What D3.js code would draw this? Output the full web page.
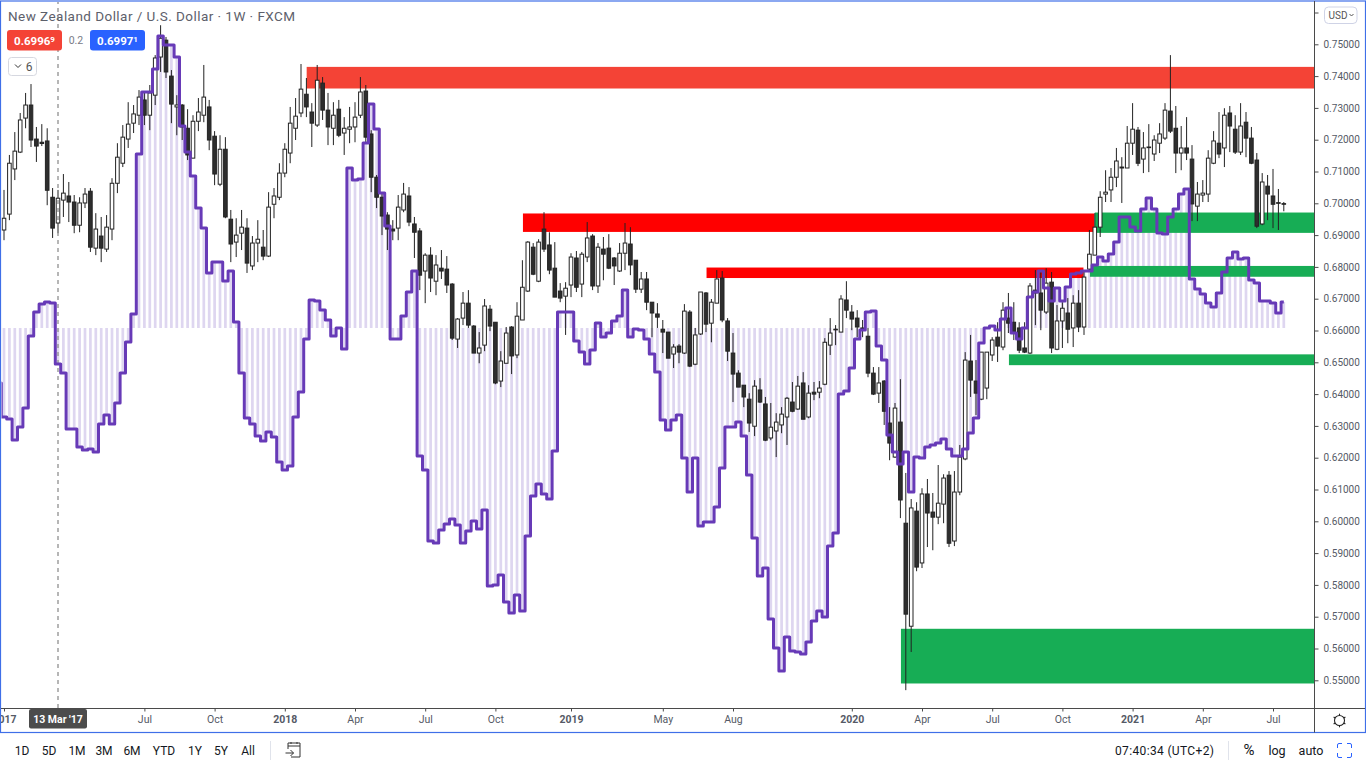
<!DOCTYPE html>
<html><head><meta charset="utf-8">
<style>
html,body{margin:0;padding:0;background:#fff;overflow:hidden}
svg{display:block}
text{font-family:Roboto,"Noto Sans",sans-serif}
</style>
<script src="https://d3js.org/d3.v7.min.js"></script>
</head><body><svg id="c" width="1366" height="768"></svg>
<script>
// weekly NZD/USD candles in pips (price x 10000), first candle 2 Jan 2017
const opens=[6916,6966,7108,7161,7268,7309,7202,7192,7196,7019,
6938,7010,7023,7004,6931,7001,7038,6859,6897,6856,
6919,7063,7126,7202,7252,7277,7325,7277,7340,7460,
7513,7400,7303,7309,7236,7142,7258,7277,7303,7211,
7060,7170,6950,6878,6906,6922,6803,6875,6862,6834,
6997,7019,7095,7158,7236,7284,7343,7287,7246,7378,
7293,7236,7296,7221,7233,7240,7277,7353,7218,7082,
7019,6963,6919,6922,6979,7023,6935,6913,6787,6837,
6755,6796,6793,6746,6573,6639,6686,6614,6529,6554,
6667,6626,6441,6497,6611,6523,6633,6724,6862,6755,
6919,6869,6796,6724,6708,6743,6828,6746,6831,6897,
6740,6856,6859,6828,6787,6843,6872,6821,6730,6762,
6689,6652,6604,6595,6526,6551,6529,6658,6494,6589,
6718,6623,6686,6765,6630,6529,6466,6428,6384,6299,
6413,6369,6262,6284,6303,6328,6375,6353,6435,6328,
6406,6406,6431,6554,6602,6595,6696,6658,6639,6608,
6582,6466,6403,6441,6309,6202,6312,5994,5670,6032,
5869,6086,6029,6013,6054,6145,5938,6092,6196,6504,
6441,6384,6419,6523,6579,6548,6639,6626,6608,6545,
6529,6727,6718,6658,6752,6541,6630,6655,6608,6686,
6611,6793,6837,6925,7029,7042,7082,7111,7111,7189,
7230,7139,7175,7155,7189,7205,7290,7236,7158,7174,
7139,6991,7026,7029,7126,7189,7174,7284,7233,7161,
7255,7205,7136,6935,7054,7023,7002,6999];
const closes=[6953,7126,7164,7262,7309,7199,7180,7188,7041,6922,
7016,7032,7004,6931,7001,7029,6862,6919,6859,6925,
7063,7145,7208,7249,7281,7334,7277,7347,7457,7519,
7413,7312,7309,7240,7152,7258,7287,7334,7199,7092,
7170,6957,6872,6900,6925,6812,6875,6887,6834,6988,
7023,7095,7170,7252,7274,7359,7303,7252,7387,7293,
7240,7277,7214,7236,7240,7271,7350,7208,7082,7019,
6960,6919,6913,6988,7029,6941,6909,6774,6837,6765,
6806,6787,6743,6576,6636,6686,6617,6529,6545,6677,
6614,6435,6504,6592,6520,6645,6736,6878,6777,6878,
6856,6790,6705,6702,6733,6831,6736,6840,6891,6740,
6862,6840,6796,6803,6843,6875,6806,6730,6762,6689,
6655,6642,6595,6513,6548,6532,6661,6488,6586,6721,
6620,6689,6762,6633,6535,6463,6422,6391,6309,6425,
6375,6255,6296,6312,6337,6387,6346,6425,6321,6403,
6400,6419,6563,6592,6604,6699,6664,6636,6611,6606,
6466,6400,6435,6346,6246,6356,6067,5708,6042,5856,
6086,6026,6013,6057,6136,5931,6092,6202,6507,6444,
6403,6532,6532,6570,6551,6664,6623,6592,6538,6532,
6740,6718,6664,6749,6545,6630,6670,6604,6686,6611,
6768,6840,6925,7019,7035,7082,7133,7114,7189,7233,
7126,7174,7177,7199,7218,7293,7227,7158,7174,7158,
6998,7029,7032,7142,7196,7155,7277,7243,7161,7243,
7205,7126,6928,7067,7029,6997,7000,6997];
const highs=[7042,7152,7224,7284,7347,7375,7240,7249,7236,7048,
7042,7092,7067,7026,7019,7048,7048,6969,6957,6963,
7079,7189,7246,7318,7309,7356,7350,7372,7466,7560,
7523,7419,7340,7312,7296,7277,7331,7435,7325,7227,
7214,7208,6979,6953,6979,6953,6897,6947,6916,7035,
7048,7126,7189,7303,7331,7438,7394,7315,7435,7397,
7347,7318,7325,7271,7303,7318,7397,7372,7230,7089,
7035,6972,6947,7026,7064,7051,6957,6922,6843,6862,
6837,6853,6834,6749,6639,6721,6727,6617,6595,6699,
6680,6626,6535,6611,6614,6689,6821,6881,6875,6887,
6972,6909,6878,6749,6752,6843,6850,6847,6941,6903,
6875,6894,6903,6831,6875,6938,6925,6821,6784,6784,
6689,6686,6633,6595,6557,6557,6683,6664,6608,6721,
6721,6699,6790,6787,6639,6592,6475,6428,6403,6444,
6450,6391,6372,6340,6359,6391,6438,6457,6469,6428,
6438,6441,6576,6639,6617,6711,6755,6680,6664,6633,
6608,6485,6485,6444,6359,6372,6447,6152,6070,6060,
6104,6133,6089,6177,6148,6158,6158,6240,6532,6586,
6507,6532,6532,6579,6626,6689,6718,6689,6626,6626,
6749,6790,6790,6796,6784,6680,6689,6702,6711,6727,
6784,6916,6969,7038,7104,7111,7174,7145,7243,7315,
7240,7224,7249,7214,7252,7315,7466,7306,7243,7271,
7183,7067,7073,7167,7227,7287,7299,7306,7277,7315,
7287,7240,7158,7095,7089,7108,7045,7004];
const lows=[6884,6947,7073,7158,7236,7177,7130,7180,6994,6891,
6906,6957,6941,6906,6909,6985,6847,6837,6815,6847,
6884,7032,7114,7174,7221,7246,7246,7230,7309,7413,
7394,7252,7214,7199,7136,7142,7227,7255,7167,7057,
7054,6953,6815,6831,6853,6781,6790,6815,6821,6831,
6953,7010,7082,7126,7199,7271,7271,7177,7240,7262,
7183,7183,7208,7152,7189,7192,7268,7192,7035,6985,
6900,6853,6884,6884,6972,6928,6828,6727,6686,6721,
6711,6762,6718,6570,6545,6617,6608,6529,6497,6535,
6598,6431,6422,6497,6463,6513,6633,6721,6774,6752,
6847,6777,6705,6689,6586,6705,6721,6705,6815,6727,
6718,6758,6793,6743,6784,6790,6774,6718,6718,6664,
6579,6608,6529,6513,6482,6497,6526,6485,6491,6586,
6595,6563,6686,6626,6504,6375,6422,6359,6281,6268,
6372,6252,6255,6202,6277,6240,6343,6350,6321,6324,
6381,6387,6428,6523,6554,6595,6639,6601,6579,6579,
6453,6397,6372,6303,6192,6199,6010,5469,5589,5843,
5853,5919,5909,5991,5994,5919,5922,6082,6192,6391,
6334,6381,6384,6504,6501,6538,6592,6570,6529,6529,
6526,6617,6601,6652,6529,6538,6545,6560,6548,6595,
6586,6790,6837,6894,7004,7004,7051,7001,7111,7152,
7117,7095,7098,7133,7158,7199,7221,7095,7104,7136,
6944,6944,7004,7004,7123,7142,7114,7161,7155,7152,
7145,7123,6922,6931,6947,6922,6916,6975];
// oscillator, one value per candle; the first value belongs to the week before the first candle
const oscillator=[-55,-89,-91,-112,-99,-80,-8,16,24,26,25,
-36,-45,-101,-101,-119,-122,-121,-124,-96,-87,
-96,-75,-45,-14,14,174,236,236,259,292,
283,283,271,202,176,152,120,100,55,66,
66,47,57,6,-45,-90,-96,-108,-113,-104,
-109,-134,-142,-138,-89,-64,-11,28,27,18,
8,-8,0,-21,160,148,149,185,224,199,
135,102,-11,-11,12,36,57,-128,-142,-213,
-215,-202,-196,-191,-197,-215,-203,-193,-201,-182,
-258,-257,-247,-274,-285,-267,-283,-208,-168,-156,
-166,-171,-123,16,16,16,-13,-24,-36,-22,
5,-9,-5,7,12,38,-9,-1,-2,-11,
-26,-44,-92,-102,-92,-87,-130,-164,-130,-198,
-194,-194,-179,-140,-99,-99,-94,-108,-147,-210,
-248,-240,-291,-320,-343,-309,-323,-324,-326,-314,
-293,-283,-289,-218,-205,-66,-63,-40,-11,-2,
16,17,-18,-32,-107,-124,-136,-124,-164,-129,
-130,-119,-117,-115,-111,-121,-128,-128,-121,-105,
-90,-15,0,2,-2,9,20,-5,-11,0,
31,36,57,40,27,40,27,41,54,55,
57,57,63,71,67,74,86,111,111,101,
97,119,130,119,95,94,111,119,134,139,
49,39,34,25,21,35,56,70,76,69,
70,48,45,27,27,25,15,26];
// zones: first week index, last week index, upper and lower price in pips
const zoneStart=[56.05,96.1,130.1,202,201.1,186.1,166.1];
const zoneEnd=[260,201.9,199.9,260,260,260,260];
const zoneTop=[7429,6968,6798,6971,6803,6525,5662];
const zoneBottom=[7361,6910,6765,6907,6769,6491,5490];
const zoneColor=["#f44336","#ff0000","#ff0000","#17ad55","#17ad55","#17ad55","#17ad55"];
const priceTicks=[0.55,0.56,0.57,0.58,0.59,0.60,0.61,0.62,0.63,0.64,0.65,0.66,0.67,0.68,0.69,0.70,0.71,0.72,0.73,0.74,0.75,0.76];
const timeTickIndex=[0,26,39,52,65,78,91,105,122,135,157,170,183,196,209,222,235];
const timeTickLabel=["2017","Jul","Oct","2018","Apr","Jul","Oct","2019","May","Aug","2020","Apr","Jul","Oct","2021","Apr","Jul"];
const rangeLabels=["1D","5D","1M","3M","6M","YTD","1Y","5Y","All"];
const rangeCenters=[22,49,77,104,132,164,195,221,248];
const crossIndex=10, crossLabel="13 Mar '17";

const svg=d3.select("#c");
const W=1366,plotR=1314.5,axisY=708.5,bottom=732.5;
const x=d3.scaleLinear().domain([0,237]).range([4,1283.8]);
const y=d3.scaleLinear().domain([0.55,0.75]).range([680.3,44.3]);
const yOsc=d3.scaleLinear().domain([-100,100]).range([428,228]);
const FG="#555a66",GR="#4a4a4a";

svg.append("defs").append("clipPath").attr("id","plot").append("rect")
  .attr("x",1.5).attr("y",2).attr("width",plotR-1.5).attr("height",axisY-2);
const plot=svg.append("g").attr("clip-path","url(#plot)");

// histogram
const oscIdx=oscillator.map((_,k)=>k-1);
plot.append("g").selectAll("rect").data(oscIdx).join("rect")
  .attr("x",i=>x(i)-1.35).attr("width",2.7)
  .attr("y",i=>Math.min(yOsc(oscillator[i+1]),yOsc(0)))
  .attr("height",i=>Math.abs(yOsc(oscillator[i+1])-yOsc(0)))
  .attr("fill","#ded6f0");

// zones
plot.append("g").selectAll("rect").data(zoneStart).join("rect")
  .attr("x",(d)=>x(d)).attr("width",(d,k)=>x(zoneEnd[k])-x(d))
  .attr("y",(d,k)=>y(zoneTop[k]/1e4)).attr("height",(d,k)=>y(zoneBottom[k]/1e4)-y(zoneTop[k]/1e4))
  .attr("fill",(d,k)=>zoneColor[k]);

// candles
const idx=d3.range(opens.length);
const candles=plot.append("g");
candles.selectAll("line").data(idx).join("line")
  .attr("x1",x).attr("x2",x)
  .attr("y1",i=>y(highs[i]/1e4)).attr("y2",i=>y(lows[i]/1e4))
  .attr("stroke","#222").attr("stroke-width",1);
candles.selectAll("rect").data(idx).join("rect")
  .attr("x",i=>x(i)-1.8).attr("width",3.6)
  .attr("y",i=>y(Math.max(opens[i],closes[i])/1e4))
  .attr("height",i=>Math.max(0.5,Math.abs(y(opens[i]/1e4)-y(closes[i]/1e4))))
  .attr("fill",i=>closes[i]>=opens[i]?"#fff":"#2e2e2e")
  .attr("stroke","#222").attr("stroke-width",1);

// crosshair
plot.append("line").attr("x1",x(crossIndex)).attr("x2",x(crossIndex)).attr("y1",0).attr("y2",axisY)
  .attr("stroke","#8f8f8f").attr("stroke-width",1.3).attr("stroke-dasharray","4 4");

// oscillator step line
const line=d3.line().x(i=>x(i)).y(i=>yOsc(oscillator[i+1])).curve(d3.curveStep);
plot.append("path").attr("d",line(oscIdx)).attr("fill","none")
  .attr("stroke","#673ab7").attr("stroke-width",3).attr("stroke-linejoin","round");

// frame
const fr=svg.append("g");
fr.append("rect").attr("x",0.5).attr("y",1).attr("width",1365).attr("height",bottom-1).attr("fill","none").attr("stroke","#3f6fe8").attr("stroke-width",1.2);
fr.append("line").attr("x1",plotR).attr("x2",plotR).attr("y1",1).attr("y2",bottom).attr("stroke",GR);
fr.append("line").attr("x1",1).attr("x2",1365).attr("y1",axisY).attr("y2",axisY).attr("stroke",GR);

// price axis (the 0.76 tick mark sits under the currency button, its label is hidden there)
const yAxis=d3.axisRight(y).tickValues(priceTicks).tickSize(4).tickPadding(5).tickFormat(d=>d>0.755?"":d3.format(".5f")(d));
const ya=svg.append("g").attr("transform",`translate(${plotR},0)`).call(yAxis);
ya.select(".domain").remove();
ya.selectAll("line").attr("stroke",GR);
ya.selectAll("text").attr("fill",FG).attr("font-size",10).attr("font-family","Roboto");

// time axis
const tf=d3.scaleLinear().domain(x.domain()).range(x.range());
const xAxis=d3.axisBottom(tf).tickValues(timeTickIndex).tickSize(3).tickPadding(4).tickFormat((d,k)=>timeTickLabel[k]);
svg.append("clipPath").attr("id","tclip").append("rect").attr("x",1).attr("y",axisY).attr("width",plotR-1).attr("height",24);
const xa=svg.append("g").attr("clip-path","url(#tclip)").append("g").attr("transform",`translate(0,${axisY})`).call(xAxis);
xa.select(".domain").remove();
xa.selectAll("line").attr("stroke",GR);
xa.selectAll("text").attr("fill",FG).attr("font-size",10.5).attr("font-family","Roboto")
  .attr("font-weight",(d,k)=>/^20/.test(timeTickLabel[k])?700:400);

// crosshair time label
svg.append("rect").attr("x",29).attr("y",709).attr("width",58).attr("height",19.5).attr("rx",2).attr("fill","#4c4c4c");
svg.append("text").attr("x",58).attr("y",723).attr("text-anchor","middle").attr("fill","#fff").attr("font-size",10.5).attr("font-weight",700).text(crossLabel);

// title and legend
svg.append("text").attr("x",8).attr("y",21).attr("fill","#5d606b").attr("font-size",13.5).attr("letter-spacing","0.45").text("New Zealand Dollar / U.S. Dollar · 1W · FXCM");
svg.append("rect").attr("x",7).attr("y",30).attr("width",55).attr("height",20.5).attr("rx",3).attr("fill","#f44336");
svg.append("rect").attr("x",90).attr("y",30).attr("width",55).attr("height",20.5).attr("rx",3).attr("fill","#2962ff");
const badge=(cx,big,sm)=>{const t=svg.append("text").attr("x",cx).attr("y",44.5).attr("text-anchor","middle").attr("fill","#fff").attr("font-size",11.5).attr("font-weight",700);
  t.append("tspan").text(big);t.append("tspan").attr("font-size",8).attr("dy",-3).text(sm);};
badge(34.5,"0.6996","9");badge(117.5,"0.6997","1");
svg.append("text").attr("x",76).attr("y",44).attr("text-anchor","middle").attr("fill","#787b86").attr("font-size",10.5).text("0.2");
svg.append("rect").attr("x",8.5).attr("y",57.5).attr("width",28).attr("height",18).attr("rx",3).attr("fill","#fff").attr("stroke","#d6d8e0");
svg.append("path").attr("d","M15 64.5l3 3 3-3").attr("fill","none").attr("stroke","#333").attr("stroke-width",1);
svg.append("text").attr("x",29).attr("y",70.5).attr("text-anchor","middle").attr("fill","#555").attr("font-size",12).text("6");

// USD button
svg.append("rect").attr("x",1324.5).attr("y",7).attr("width",32.5).attr("height",16.5).attr("rx",4).attr("fill","#fff").attr("stroke","#cfd3e6");
svg.append("text").attr("x",1328.5).attr("y",19).attr("fill","#555").attr("font-size",10).text("USD");
svg.append("path").attr("d","M1349.5 14l2 2 2-2").attr("fill","none").attr("stroke","#555").attr("stroke-width",1);

// gear / sun icon
const gear=svg.append("g").attr("transform","translate(1339.5,720.5)");
gear.append("circle").attr("r",5).attr("fill","none").attr("stroke","#222").attr("stroke-width",1.1);
d3.range(6).forEach(k=>{const a=k*Math.PI/3+Math.PI/6;gear.append("line").attr("x1",5*Math.cos(a)).attr("y1",5*Math.sin(a)).attr("x2",6.8*Math.cos(a)).attr("y2",6.8*Math.sin(a)).attr("stroke","#222").attr("stroke-width",1.1);});

// bottom toolbar
const bar=svg.append("g").attr("fill","#131722").attr("font-size",12);
bar.selectAll("text.r").data(rangeLabels).join("text").attr("class","r")
  .attr("x",(d,k)=>rangeCenters[k]).attr("y",755).attr("text-anchor","middle").text(d=>d);
svg.append("line").attr("x1",270.5).attr("x2",270.5).attr("y1",741).attr("y2",760).attr("stroke","#e0e3eb");
svg.append("path").attr("d","M288 749v-6h12v14h-9M288 746h12M291 742v2M297 742v2M285.5 753h8M290.5 750l3 3-3 3").attr("fill","none").attr("stroke","#333").attr("stroke-width",1);
svg.append("text").attr("x",1115).attr("y",755).attr("fill","#131722").attr("font-size",12).attr("letter-spacing","0.35").text("07:40:34 (UTC+2)");
svg.append("line").attr("x1",1228.5).attr("x2",1228.5).attr("y1",741).attr("y2",760).attr("stroke","#e0e3eb");
[["%",1249],["log",1277],["auto",1311]].forEach(([t,c])=>svg.append("text").attr("x",c).attr("y",755).attr("text-anchor","middle").attr("fill","#131722").attr("font-size",t==="%"?15:12.5).text(t));
svg.append("path").attr("d","M1337.5 748v-3a1.5 1.5 0 0 1 1.5-1.5h3M1347 743.5h3a1.5 1.5 0 0 1 1.5 1.5v3M1351.5 753v3a1.5 1.5 0 0 1-1.5 1.5h-3M1342 757.5h-3a1.5 1.5 0 0 1-1.5-1.5v-3")
  .attr("fill","none").attr("stroke","#2962ff").attr("stroke-width",1);
</script></body></html>
